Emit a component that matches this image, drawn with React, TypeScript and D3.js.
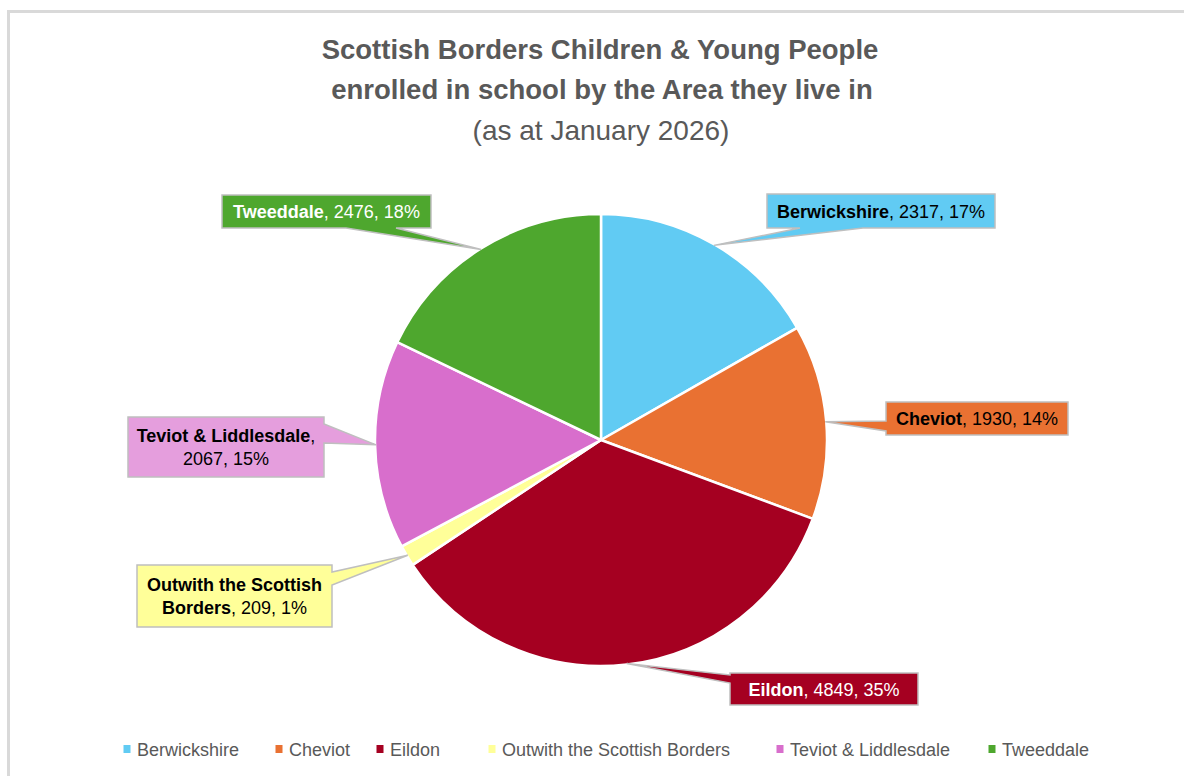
import React from "react";
import * as d3 from "d3";

const categories = ["Berwickshire", "Cheviot", "Eildon", "Outwith the Scottish Borders", "Teviot & Liddlesdale", "Tweeddale"];
const values = [2317, 1930, 4849, 209, 2067, 2476];
const sliceColors = ["#61CBF3", "#E97132", "#A50021", "#FFFF99", "#D86ECC", "#4EA72E"];
const boxColors = ["#61CBF3", "#E97132", "#A50021", "#FFFF99", "#E59EDD", "#4EA72E"];
const labelTextColors = ["#000000", "#000000", "#FFFFFF", "#000000", "#000000", "#FFFFFF"];
// label lines: [bold part, regular part] per line
const labelLines: [string, string][][] = [
  [["Berwickshire", ", 2317, 17%"]],
  [["Cheviot", ", 1930, 14%"]],
  [["Eildon", ", 4849, 35%"]],
  [["Outwith the Scottish", ""], ["Borders", ", 209, 1%"]],
  [["Teviot & Liddlesdale", ","], ["", "2067, 15%"]],
  [["Tweeddale", ", 2476, 18%"]],
];
const titleLines = ["Scottish Borders Children & Young People", "enrolled in school by the Area they live in", "(as at January 2026)"];

// layout (positions only)
const boxLayout = [
  { x: 767, y: 194, w: 228, h: 34, side: "bottom", s0: 33, s1: 96 },
  { x: 886, y: 402, w: 182, h: 33, side: "left", s0: 19, s1: 29 },
  { x: 730, y: 673, w: 188, h: 32, side: "left", s0: 2, s1: 10 },
  { x: 137, y: 565, w: 195, h: 62, side: "right", s0: 7, s1: 20 },
  { x: 128, y: 417, w: 196, h: 60, side: "right", s0: 7, s1: 26 },
  { x: 222, y: 195, w: 209, h: 33, side: "bottom", s0: 124, s1: 174 },
];
const legendX = [127, 279, 380, 492, 780, 992];

const FONT = "'Liberation Sans', Arial, sans-serif";
const cx = 601, cy = 440, R = 226;

function calloutPath(b: any, tip: [number, number]) {
  const { x, y, w, h, side, s0, s1 } = b;
  const pts: [number, number][] = [];
  pts.push([x, y]);
  if (side === "top") { pts.push([x + s0, y], tip, [x + s1, y]); }
  pts.push([x + w, y]);
  if (side === "right") { pts.push([x + w, y + s0], tip, [x + w, y + s1]); }
  pts.push([x + w, y + h]);
  if (side === "bottom") { pts.push([x + s1, y + h], tip, [x + s0, y + h]); }
  pts.push([x, y + h]);
  if (side === "left") { pts.push([x, y + s1], tip, [x, y + s0]); }
  return "M" + pts.map((p) => p.join(",")).join("L") + "Z";
}

export default function App() {
  const pie = d3.pie<number>().sort(null).value((d) => d);
  const arcs = pie(values);
  const arc = d3.arc<d3.PieArcDatum<number>>().innerRadius(0).outerRadius(R);
  const edge = d3.arc<d3.PieArcDatum<number>>().innerRadius(R - 1).outerRadius(R - 1);

  return (
    <svg width={1184} height={776} style={{ position: "absolute", left: 0, top: 0 }} fontFamily={FONT}>
      <rect x={0} y={0} width={1184} height={776} fill="#FFFFFF" />
      <rect x={8.5} y={11.5} width={1300} height={900} fill="#FFFFFF" stroke="#D9D9D9" strokeWidth={3} />
      <g fill="#595959" textAnchor="middle">
        <text x={600} y={59} fontSize={27.5} fontWeight="bold">{titleLines[0]}</text>
        <text x={602} y={99} fontSize={27.5} fontWeight="bold">{titleLines[1]}</text>
        <text x={601} y={140} fontSize={28}>{titleLines[2]}</text>
      </g>
      <g transform={`translate(${cx},${cy})`}>
        {arcs.map((a, i) => (
          <path key={i} d={arc(a) || ""} fill={sliceColors[i]} stroke="#FFFFFF" strokeWidth={2.5} strokeLinejoin="round" />
        ))}
      </g>
      {arcs.map((a, i) => {
        const c = edge.centroid(a);
        const tip: [number, number] = [cx + c[0], cy + c[1]];
        const b = boxLayout[i];
        const lines = labelLines[i];
        const lh = 23;
        const y0 = b.y + b.h / 2 - ((lines.length - 1) * lh) / 2 + 6.5;
        return (
          <g key={i}>
            <path d={calloutPath(b, tip)} fill={boxColors[i]} stroke="#BFBFBF" strokeWidth={1.5} />
            {lines.map((ln, j) => (
              <text key={j} x={b.x + b.w / 2} y={y0 + j * lh} textAnchor="middle" fontSize={18} fill={labelTextColors[i]}>
                <tspan fontWeight="bold">{ln[0]}</tspan>
                <tspan>{ln[1]}</tspan>
              </text>
            ))}
          </g>
        );
      })}
      <g>
        {categories.map((c, i) => (
          <g key={i} transform={`translate(${legendX[i]},749)`}>
            <rect x={-3.5} y={-4} width={7} height={8} fill={sliceColors[i]} />
            <text x={10} y={6.5} fontSize={18} fill="#595959">{c}</text>
          </g>
        ))}
      </g>
    </svg>
  );
}
